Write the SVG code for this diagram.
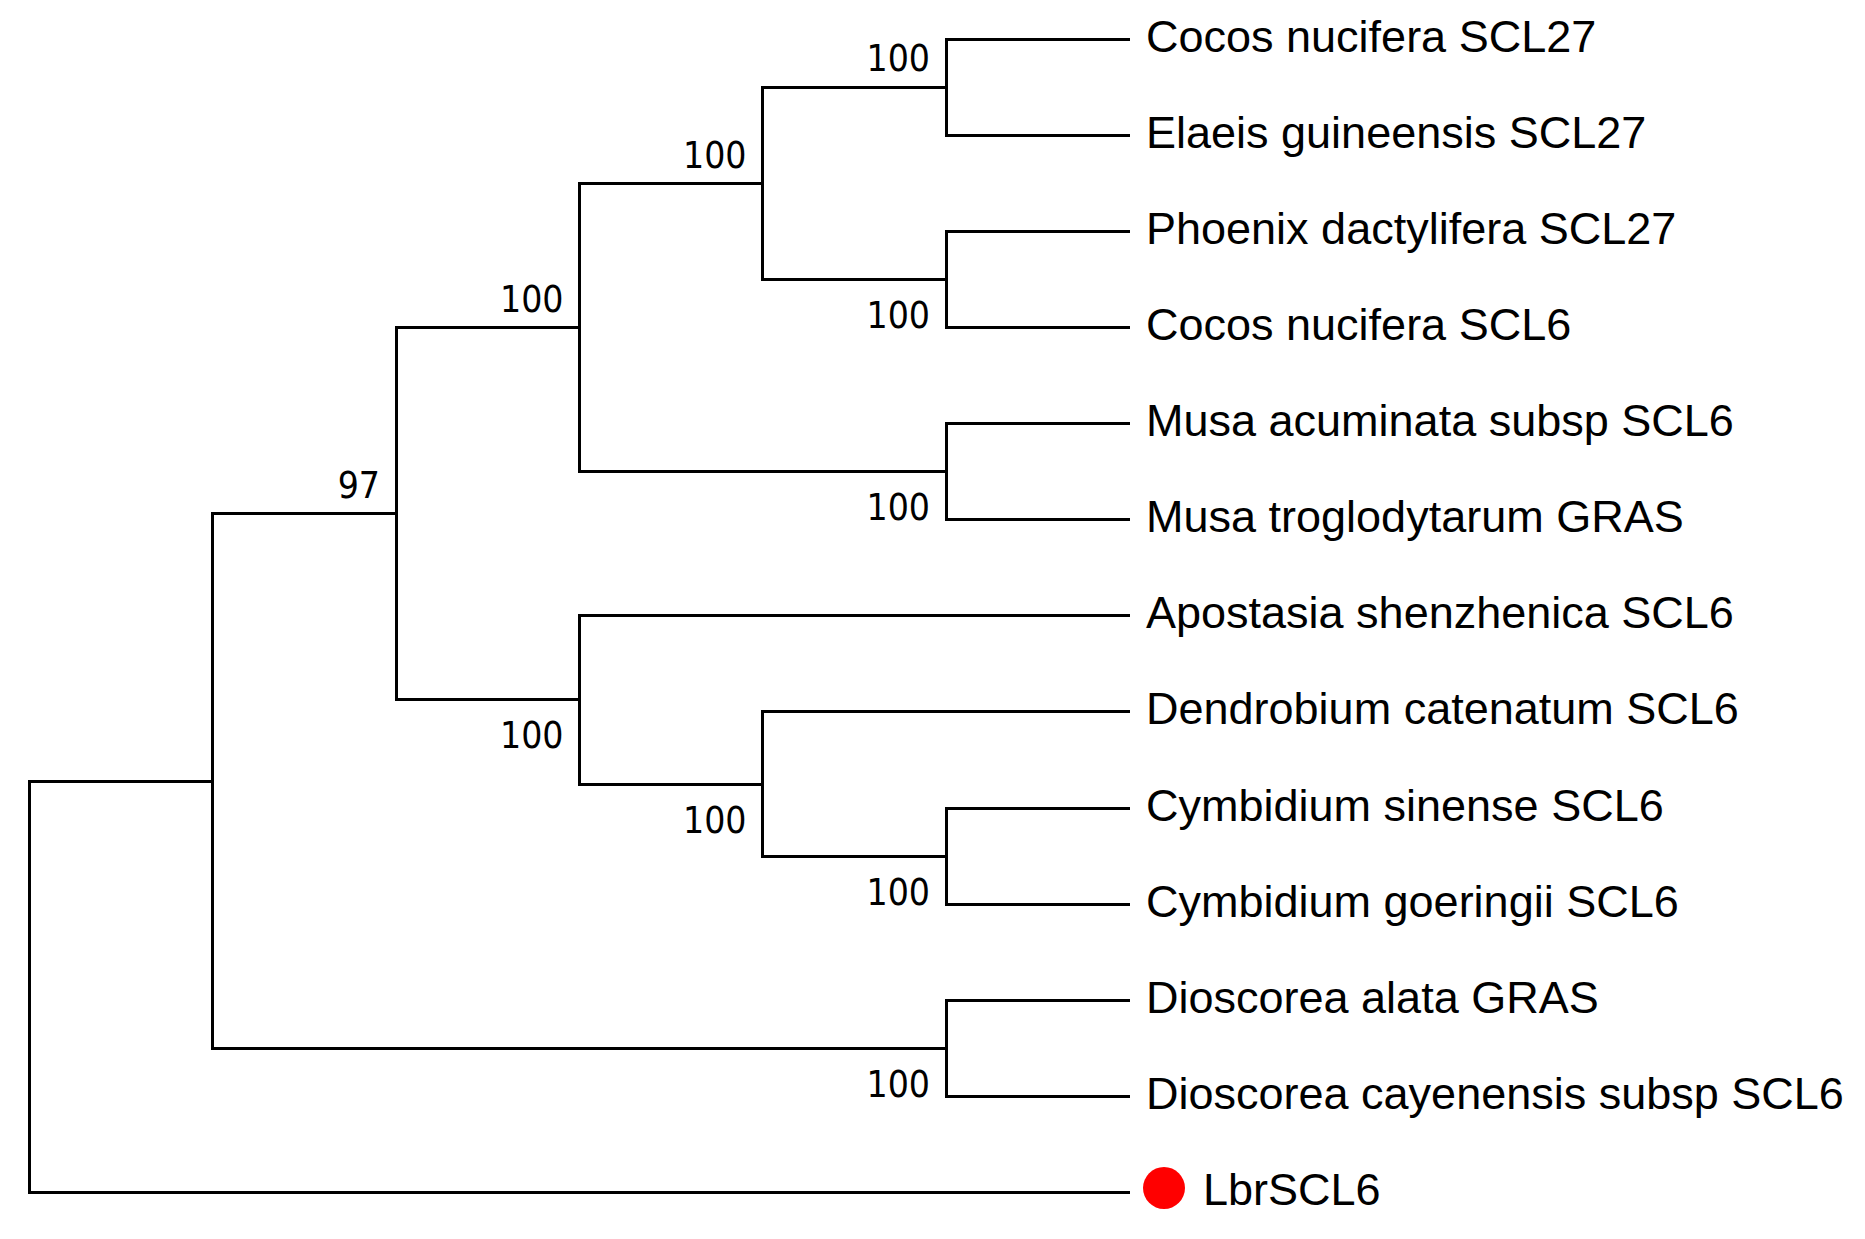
<svg xmlns="http://www.w3.org/2000/svg" width="1865" height="1239" viewBox="0 0 1865 1239">
<style>
.br{fill:none;stroke:#000;stroke-width:3;stroke-linejoin:miter;stroke-linecap:butt}
.leaf{font-family:"Liberation Sans",Arial,sans-serif;font-size:45px;fill:#000}
.bs{font-family:"DejaVu Sans Condensed","DejaVu Sans",sans-serif;font-stretch:condensed;font-size:37px;fill:#000;text-anchor:end}
</style>
<rect width="1865" height="1239" fill="#fff"/>
<g id="connectors">
<path class="br" d="M1130 39.5H946.5V135.5H1130"/>
<path class="br" d="M1130 231.5H946.5V327.5H1130"/>
<path class="br" d="M1130 423.5H946.5V519.5H1130"/>
<path class="br" d="M1130 808.5H946.5V904.5H1130"/>
<path class="br" d="M1130 1000.5H946.5V1096.5H1130"/>
<path class="br" d="M946.5 87.5H762.5V279.5H946.5"/>
<path class="br" d="M1130 711.5H762.5V856.5H946.5"/>
<path class="br" d="M762.5 183.5H579.5V471.5H946.5"/>
<path class="br" d="M1130 615.5H579.5V784.5H762.5"/>
<path class="br" d="M579.5 327.5H396.5V699.5H579.5"/>
<path class="br" d="M396.5 513.5H212.5V1048.5H946.5"/>
<path class="br" d="M212.5 781.5H29.5V1192.5H1130"/>
</g>
<g id="leaves">
<g id="leaf-cocos-scl27"><text class="leaf" x="1146" y="52">Cocos nucifera SCL27</text></g>
<g id="leaf-elaeis-scl27"><text class="leaf" x="1146" y="148">Elaeis guineensis SCL27</text></g>
<g id="leaf-phoenix-scl27"><text class="leaf" x="1146" y="244">Phoenix dactylifera SCL27</text></g>
<g id="leaf-cocos-scl6"><text class="leaf" x="1146" y="340">Cocos nucifera SCL6</text></g>
<g id="leaf-musa-acuminata"><text class="leaf" x="1146" y="436">Musa acuminata subsp SCL6</text></g>
<g id="leaf-musa-troglodytarum"><text class="leaf" x="1146" y="532">Musa troglodytarum GRAS</text></g>
<g id="leaf-apostasia"><text class="leaf" x="1146" y="628">Apostasia shenzhenica SCL6</text></g>
<g id="leaf-dendrobium"><text class="leaf" x="1146" y="724">Dendrobium catenatum SCL6</text></g>
<g id="leaf-cymbidium-sinense"><text class="leaf" x="1146" y="821">Cymbidium sinense SCL6</text></g>
<g id="leaf-cymbidium-goeringii"><text class="leaf" x="1146" y="917">Cymbidium goeringii SCL6</text></g>
<g id="leaf-dioscorea-alata"><text class="leaf" x="1146" y="1013">Dioscorea alata GRAS</text></g>
<g id="leaf-dioscorea-cayenensis"><text class="leaf" x="1146" y="1109">Dioscorea cayenensis subsp SCL6</text></g>
<g id="leaf-lbrscl6"><circle cx="1164" cy="1188" r="21" fill="#ff0000"/><text class="leaf" x="1203" y="1205">LbrSCL6</text></g>
</g>
<g id="support">
<text class="bs" x="930" y="71">100</text>
<text class="bs" x="746.5" y="167.5">100</text>
<text class="bs" x="930" y="327.5">100</text>
<text class="bs" x="563.5" y="311.5">100</text>
<text class="bs" x="930" y="519.5">100</text>
<text class="bs" x="380" y="497.5">97</text>
<text class="bs" x="563.5" y="747.5">100</text>
<text class="bs" x="746.5" y="832.5">100</text>
<text class="bs" x="930" y="904.5">100</text>
<text class="bs" x="930" y="1096.5">100</text>
</g>
</svg>
